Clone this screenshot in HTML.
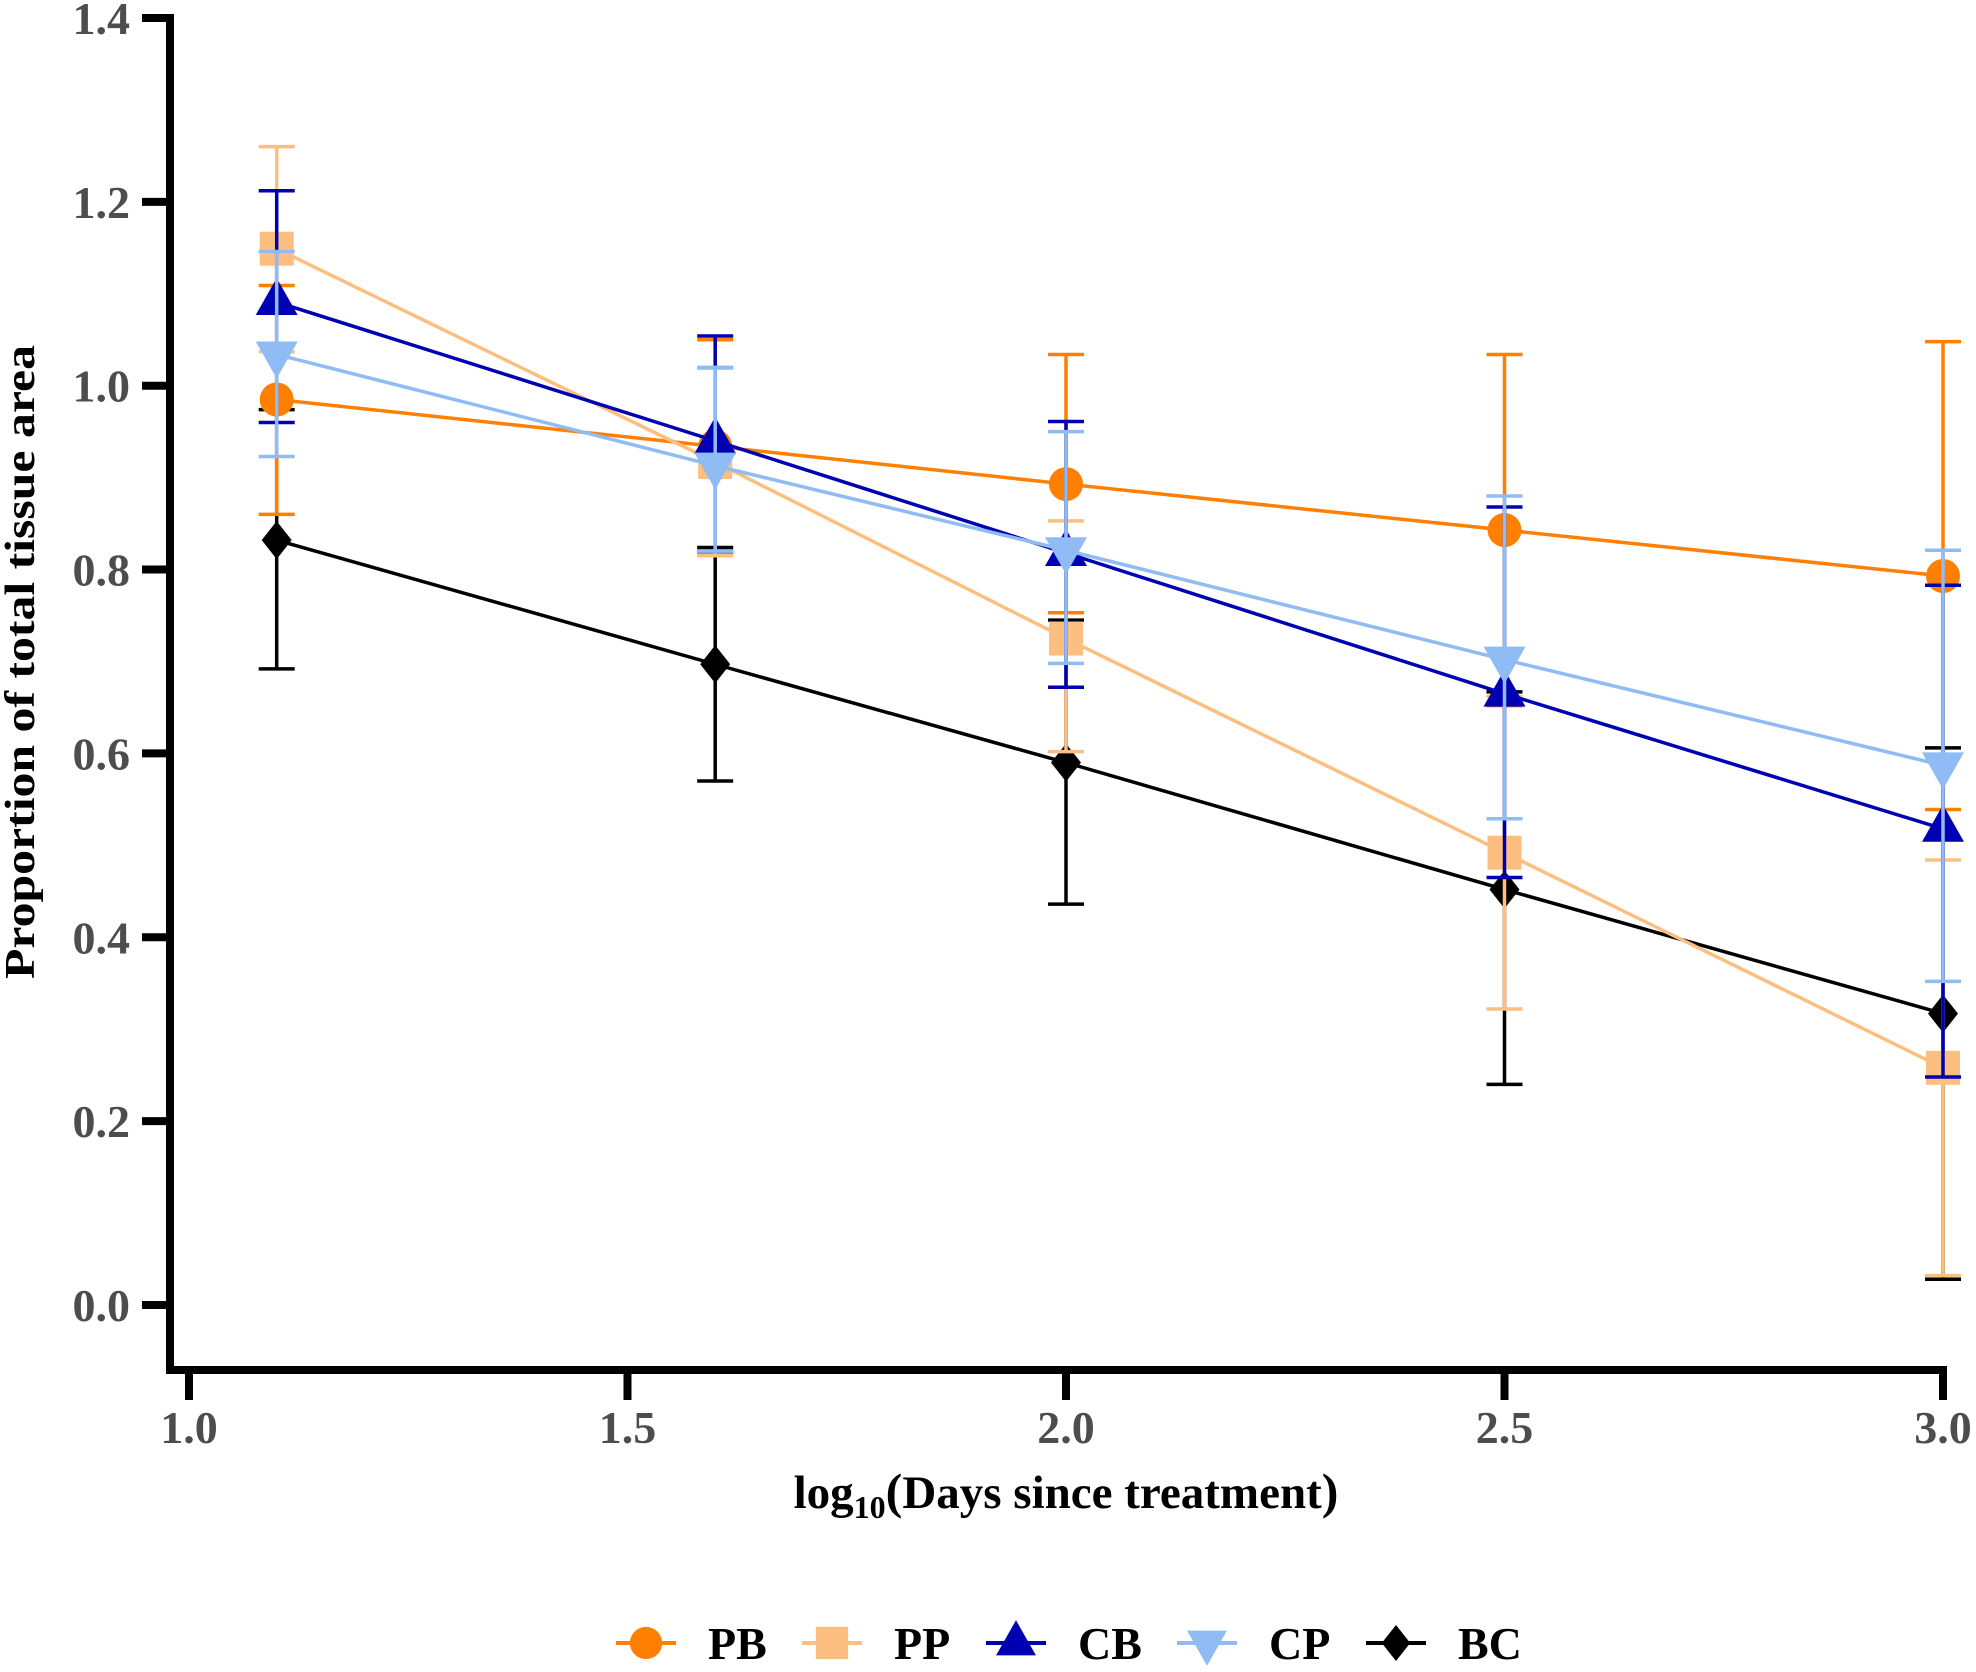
<!DOCTYPE html>
<html><head><meta charset="utf-8"><style>
html,body{margin:0;padding:0;background:#fff;}
svg{display:block;font-family:"Liberation Serif",serif;font-weight:bold;}
</style></head><body>
<svg id="chart" width="1976" height="1672" viewBox="0 0 1976 1672" xmlns="http://www.w3.org/2000/svg">
<g id="axes"></g>
<g id="series"></g>
<g id="legend"></g>
</svg>
<script>
const xVals = [1.1, 1.6, 2.0, 2.5, 3.0];
const seriesNames = ["PB", "PP", "CB", "CP", "BC"];
const pbMean = [0.985, 0.934, 0.893, 0.843, 0.793];
const pbUp   = [1.109, 1.050, 1.034, 1.034, 1.048];
const pbLo   = [0.860, 0.818, 0.753, 0.652, 0.539];
const ppMean = [1.149, 0.917, 0.725, 0.492, 0.258];
const ppUp   = [1.260, 1.019, 0.853, 0.662, 0.484];
const ppLo   = [1.037, 0.815, 0.602, 0.322, 0.032];
const cbMean = [1.091, 0.940, 0.818, 0.665, 0.518];
const cbUp   = [1.212, 1.054, 0.961, 0.868, 0.783];
const cbLo   = [0.960, 0.820, 0.672, 0.465, 0.248];
const cpMean = [1.034, 0.913, 0.821, 0.702, 0.587];
const cpUp   = [1.146, 1.020, 0.950, 0.880, 0.821];
const cpLo   = [0.923, 0.820, 0.698, 0.529, 0.352];
const bcMean = [0.832, 0.697, 0.590, 0.452, 0.317];
const bcUp   = [0.974, 0.824, 0.745, 0.667, 0.606];
const bcLo   = [0.692, 0.570, 0.436, 0.240, 0.028];
const yTicks = [0.0, 0.2, 0.4, 0.6, 0.8, 1.0, 1.2, 1.4];
const xTicks = [1.0, 1.5, 2.0, 2.5, 3.0];

const NS = "http://www.w3.org/2000/svg";
const px = x => 189 + (x - 1) * 877;
const py = v => 1305 - v * 919.3;
function mk(tag, attrs, parent) {
  const e = document.createElementNS(NS, tag);
  for (const k in attrs) e.setAttribute(k, attrs[k]);
  parent.appendChild(e);
  return e;
}
const axes = document.getElementById('axes');
const ser = document.getElementById('series');
const leg = document.getElementById('legend');

let yl = mk('line', {x1:170, y1:py(1.4)-4, x2:170, y2:1374, stroke:'#000','stroke-width':8}, axes);


let xl = mk('line', {x1:166, y1:1370, x2:px(3.0)+4, y2:1370, stroke:'#000','stroke-width':8}, axes);



yTicks.forEach(v => {
  const t = mk('line', {x1:142, y1:py(v), x2:170, y2:py(v), stroke:'#000','stroke-width':8}, axes);
  
  
  const l = mk('text', {x:130, y:py(v)+16, 'text-anchor':'end', 'font-size':46, fill:'#4d4d4d'}, axes);
  l.textContent = v.toFixed(1);
  
  
});
xTicks.forEach(v => {
  const t = mk('line', {x1:px(v), y1:1370, x2:px(v), y2:1400, stroke:'#000','stroke-width':8}, axes);
  
  
  const l = mk('text', {x:px(v), y:1443, 'text-anchor':'middle', 'font-size':46, fill:'#4d4d4d'}, axes);
  l.textContent = v.toFixed(1);
  
  
});
const yt = mk('text', {x:0, y:0, transform:'translate(34,662) rotate(-90)', 'text-anchor':'middle', 'font-size':42, fill:'#000', textLength:634, lengthAdjust:'spacingAndGlyphs'}, axes);
yt.textContent = 'Proportion of total tissue area';


const xt = mk('text', {x:1066, y:1508, 'text-anchor':'middle', 'font-size':47, fill:'#000'}, axes);
xt.innerHTML = 'log<tspan font-size="32" dy="10">10</tspan><tspan dy="-10" font-size="50">(</tspan><tspan>Days since treatment</tspan><tspan font-size="50">)</tspan>';



const colors = ['#ff7f00', '#fdbf7f', '#0000b3', '#8fbcf5', '#000000'];
const shapes = ['circle', 'square', 'tri-up', 'tri-down', 'diamond'];
const means = [pbMean, ppMean, cbMean, cpMean, bcMean];
const ups = [pbUp, ppUp, cbUp, cpUp, bcUp];
const los = [pbLo, ppLo, cbLo, cpLo, bcLo];

function marker(shape, cx, cy, color, s, parent) {
  let e;
  if (shape === 'circle') e = mk('circle', {cx, cy, r:17*s, fill:color}, parent);
  else if (shape === 'square') e = mk('rect', {x:cx-17*s, y:cy-17*s, width:34*s, height:34*s, fill:color}, parent);
  else if (shape === 'tri-up') e = mk('polygon', {points:`${cx},${cy-24*s} ${cx+21*s},${cy+13*s} ${cx-21*s},${cy+13*s}`, fill:color}, parent);
  else if (shape === 'tri-down') e = mk('polygon', {points:`${cx},${cy+24*s} ${cx+21*s},${cy-13*s} ${cx-21*s},${cy-13*s}`, fill:color}, parent);
  else e = mk('polygon', {points:`${cx},${cy-19*s} ${cx+15*s},${cy} ${cx},${cy+19*s} ${cx-15*s},${cy}`, fill:color}, parent);
  return e;
}

[4,0,1,2,3].forEach(i => {
  const g = mk('g', {}, ser);
  
  
  xVals.forEach((x, j) => {
    const X = px(x);
    const eb = mk('path', {d:`M${X},${py(ups[i][j])}V${py(los[i][j])}M${X-18},${py(ups[i][j])}H${X+18}M${X-18},${py(los[i][j])}H${X+18}`, stroke:colors[i], 'stroke-width':3.5, fill:'none'}, g);
    
    
  });
  const pl = mk('polyline', {points: xVals.map((x, j) => px(x) + ',' + py(means[i][j])).join(' '), stroke:colors[i], 'stroke-width':3.5, fill:'none'}, g);
  
  
  xVals.forEach((x, j) => {
    const m = marker(shapes[i], px(x), py(means[i][j]), colors[i], 1, g);
    
    
  });
});

const legX = [646, 832, 1016, 1207, 1396];
seriesNames.forEach((n, i) => {
  const g = mk('g', {}, leg);
  
  
  const cx = legX[i], cy = 1643;
  mk('line', {x1:cx-30, y1:cy, x2:cx+30, y2:cy, stroke:colors[i], 'stroke-width':4}, g);
  marker(shapes[i], cx, cy, colors[i], 0.95, g);
  const t = mk('text', {x:cx+62, y:cy+16, 'font-size':46, fill:'#000'}, g);
  t.textContent = n;
});
</script>
</body></html>
